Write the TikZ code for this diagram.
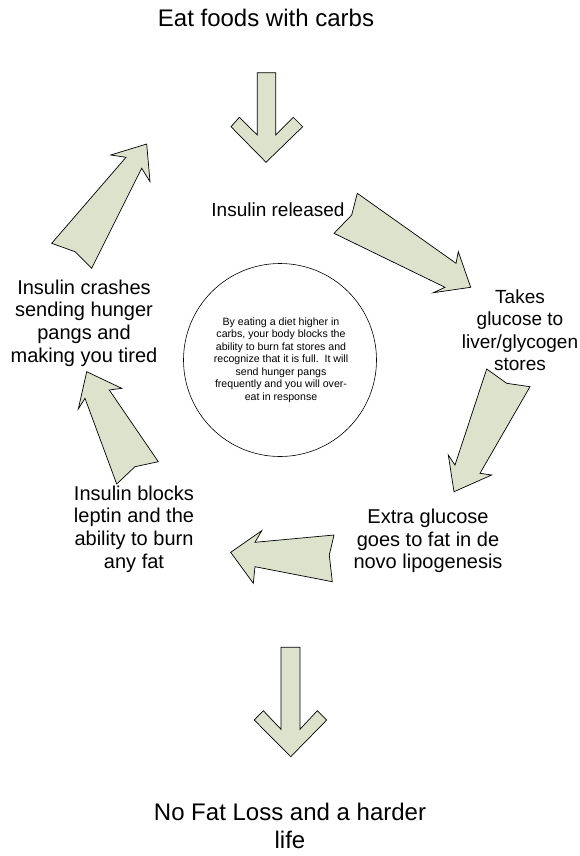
\documentclass[tikz,border=0pt]{standalone}
\usepackage{fontspec}
\setmainfont{Liberation Sans}
\definecolor{arrowfill}{RGB}{221,226,205}
\begin{document}
\begin{tikzpicture}[x=1pt,y=-1pt,
  blockarrow/.style={draw=black,line width=0.7pt,fill=arrowfill,line join=miter},
  title/.style={font=\fontsize{24pt}{28pt}\selectfont,align=center,inner sep=0pt},
  label/.style={font=\fontsize{20pt}{22.7pt}\selectfont,align=center,inner sep=0pt},
  smalllabel/.style={font=\fontsize{19pt}{22.5pt}\selectfont,align=center,inner sep=0pt},
  small/.style={font=\fontsize{10.6pt}{12.5pt}\selectfont,align=center,inner sep=0pt}]
\useasboundingbox (0,0) rectangle (580,856);
\fill[white] (0,0) rectangle (580,856);

% texts
\node[title] (top) at (266,18) {Eat foods with carbs};
\node[title] (bottom) at (290,826) {No Fat Loss and a harder\\life};
\node[smalllabel] (released) at (278,210) {Insulin released};
\node[smalllabel] (takes) at (520,330) {Takes\\glucose to\\liver/glycogen\\stores};
\node[label] (extra) at (428,541) {Extra glucose\\goes to fat in de\\novo lipogenesis};
\node[label] (blocks) at (134,529) {Insulin blocks\\leptin and the\\ability to burn\\any fat};
\node[label] (crashes) at (84,323) {Insulin crashes\\sending hunger\\pangs and\\making you tired};

% central circle
\node[draw=black,line width=0.6pt,circle,minimum size=193pt,inner sep=0pt] (center) at (280,360) {};
\node[small] (centertext) at (281,360) {By eating a diet higher in\\carbs, your body blocks the\\ability to burn fat stores and\\recognize that it is full.\ \ It will\\send hunger pangs\\frequently and you will over-\\eat in response};

% block arrows
\draw[blockarrow] (257.3,72.7) -- (275.7,72.7) -- (275.7,135) -- (293.3,117.3) -- (302.7,126.7)
  -- (266,162.3) -- (231,126.7) -- (239.3,117.3) -- (257.3,135) -- cycle;
\draw[blockarrow] (357.3,193.3) -- (456,263.3) -- (458.3,251.7) -- (470.7,287.3) -- (433.3,292.7)
  -- (445,287.3) -- (334,233.3) -- (351.7,215) -- cycle;
\draw[blockarrow] (486.7,369) -- (506.7,383.3) -- (530,386.7) -- (480,473.3) -- (491.7,475)
  -- (454,491.7) -- (448.3,455) -- (455,465) -- cycle;
\draw[blockarrow] (334,535) -- (255,542.3) -- (261.7,530.7) -- (230.7,552.3) -- (253.3,583.3)
  -- (255,566.7) -- (332.3,581.7) -- (329.3,555) -- cycle;
\draw[blockarrow] (158.3,461.7) -- (135,466.7) -- (116.7,484) -- (85,398.3) -- (78.3,409)
  -- (86.7,371.7) -- (121.7,388.3) -- (109.3,390) -- cycle;
\draw[blockarrow] (51.7,243.3) -- (75,251.7) -- (91.7,268.3) -- (141.7,168.3) -- (150,181.7)
  -- (146.7,144) -- (110.7,155) -- (126,157.3) -- cycle;
\draw[blockarrow] (281,647.3) -- (300,647.3) -- (300,729.3) -- (317.3,710.7) -- (326.7,720)
  -- (290.7,756.7) -- (254.3,720) -- (263.3,710.7) -- (281,729.3) -- cycle;
\end{tikzpicture}
\end{document}
